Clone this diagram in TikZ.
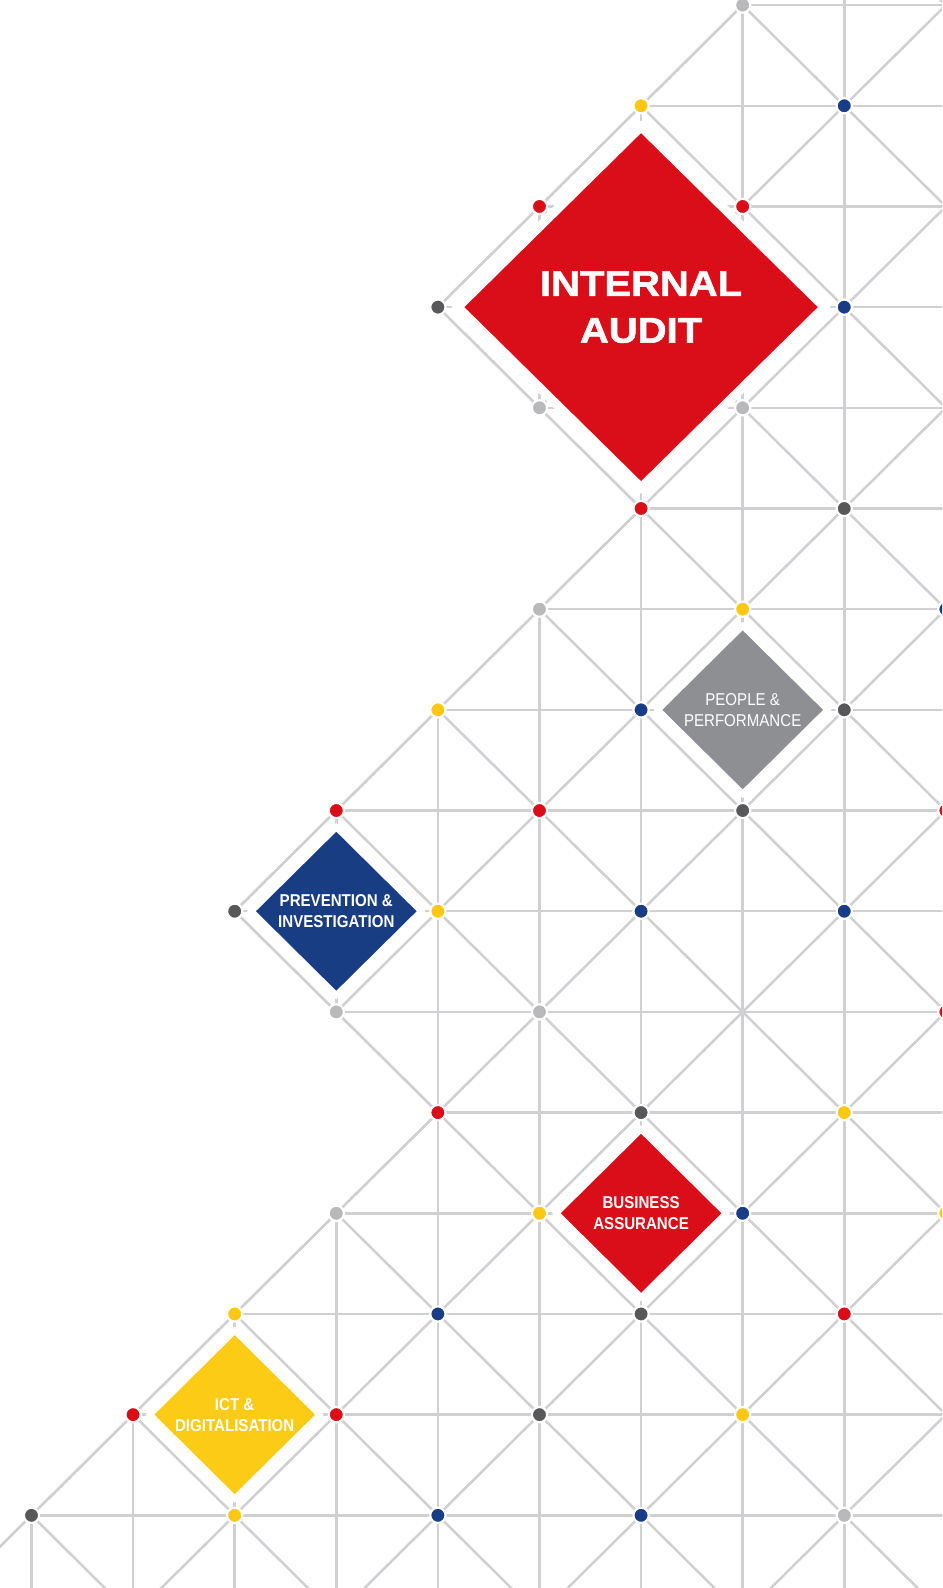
\documentclass[tikz,border=0pt]{standalone}
\usepackage{fontspec}
\usepackage{tikz}
\usetikzlibrary{shapes.geometric}
\newfontfamily\widefont[FakeStretch=1.12, FakeBold=1.6]{Liberation Sans}
\newfontfamily\narrowfont[FakeStretch=0.88]{Liberation Sans}
\definecolor{linegrey}{RGB}{208,208,211}
\definecolor{iared}{RGB}{218,14,24}
\definecolor{ppgrey}{RGB}{142,143,147}
\definecolor{pinavy}{RGB}{24,61,131}
\definecolor{ictyellow}{RGB}{252,203,22}
\definecolor{dotrd}{RGB}{218,14,24}
\definecolor{dotyl}{RGB}{252,200,20}
\definecolor{dotbl}{RGB}{25,60,135}
\definecolor{dotdg}{RGB}{88,88,90}
\definecolor{dotlg}{RGB}{185,185,188}
\tikzset{
  gridline/.style = {draw = linegrey, line width = .7pt},
  tile/.style = {diamond, inner sep = 0pt, align = center, text = white, draw = white},
  bigtile/.style = {tile, minimum width = 3.643cm, minimum height = 3.588cm, line width = 2.5pt,
    font = \widefont\bfseries\fontsize{10}{13.1}\selectfont},
  smalltile/.style = {tile, minimum width = 1.695cm, minimum height = 1.677cm, line width = 1.7pt,
    font = \narrowfont\bfseries\fontsize{4.8}{5.9}\selectfont},
  gdot/.style = {circle, inner sep = 0pt, minimum size = .15cm, draw = white, line width = .6pt}
}
\begin{document}
\begin{tikzpicture}[x = 1cm, y = -0.991cm]
\useasboundingbox (-0.31, -0.0505) rectangle (8.962, 15.722);
\clip (-0.31, -0.0505) rectangle (8.962, 15.722);
% lattice, cut along the stepped left edge
\begin{scope}
\clip (7.6, -0.6) -- (4, 3) -- (6, 5) -- (2, 9) -- (4, 11) -- (-0.8, 15.8) -- (10, 15.8) -- (10, -0.6) -- cycle;
\foreach \r in {0,...,15}
  \draw [gridline] (-1, \r) -- (10, \r);
\foreach \c in {0,...,9}
  \draw [gridline] (\c, -1) -- (\c, 16);
\foreach \k in {-1,1,...,25}
  \draw [gridline] (\k+1, -1) -- (\k-17, 17);
\foreach \m in {-17,-15,...,11}
  \draw [gridline] (\m-1, -1) -- (\m+17, 17);
\end{scope}
\draw [gridline] (7.6, -0.6) -- (4, 3) -- (6, 5) -- (2, 9) -- (4, 11) -- (-0.8, 15.8);
% tiles
\node at (6, 3) [name=internal, bigtile, fill=iared] {INTERNAL\\AUDIT};
\node at (7, 7) [name=people, smalltile, fill=ppgrey, font=\narrowfont\fontsize{4.8}{5.9}\selectfont] {PEOPLE \&\\PERFORMANCE};
\node at (3, 9) [name=prevention, smalltile, fill=pinavy] {PREVENTION \&\\INVESTIGATION};
\node at (6, 12) [name=business, smalltile, fill=iared] {BUSINESS\\ASSURANCE};
\node at (2, 14) [name=ict, smalltile, fill=ictyellow] {ICT \&\\DIGITALISATION};
% dots
\foreach \c/\r/\col in {7/0/dotlg, 5/4/dotlg, 7/4/dotlg, 5/6/dotlg, 3/10/dotlg, 5/10/dotlg, 3/12/dotlg, 8/15/dotlg,
  6/1/dotyl, 7/6/dotyl, 4/7/dotyl, 4/9/dotyl, 8/11/dotyl, 5/12/dotyl, 9/12/dotyl, 2/13/dotyl, 7/14/dotyl, 2/15/dotyl,
  8/1/dotbl, 8/3/dotbl, 9/6/dotbl, 6/7/dotbl, 6/9/dotbl, 8/9/dotbl, 7/12/dotbl, 4/13/dotbl, 4/15/dotbl, 6/15/dotbl,
  5/2/dotrd, 7/2/dotrd, 6/5/dotrd, 3/8/dotrd, 5/8/dotrd, 9/8/dotrd, 9/10/dotrd, 4/11/dotrd, 8/13/dotrd, 1/14/dotrd, 3/14/dotrd,
  4/3/dotdg, 8/5/dotdg, 8/7/dotdg, 7/8/dotdg, 2/9/dotdg, 6/11/dotdg, 6/13/dotdg, 5/14/dotdg, 0/15/dotdg}
  \node at (\c, \r) [name=d\c-\r, gdot, fill=\col] {};
\end{tikzpicture}
\end{document}
